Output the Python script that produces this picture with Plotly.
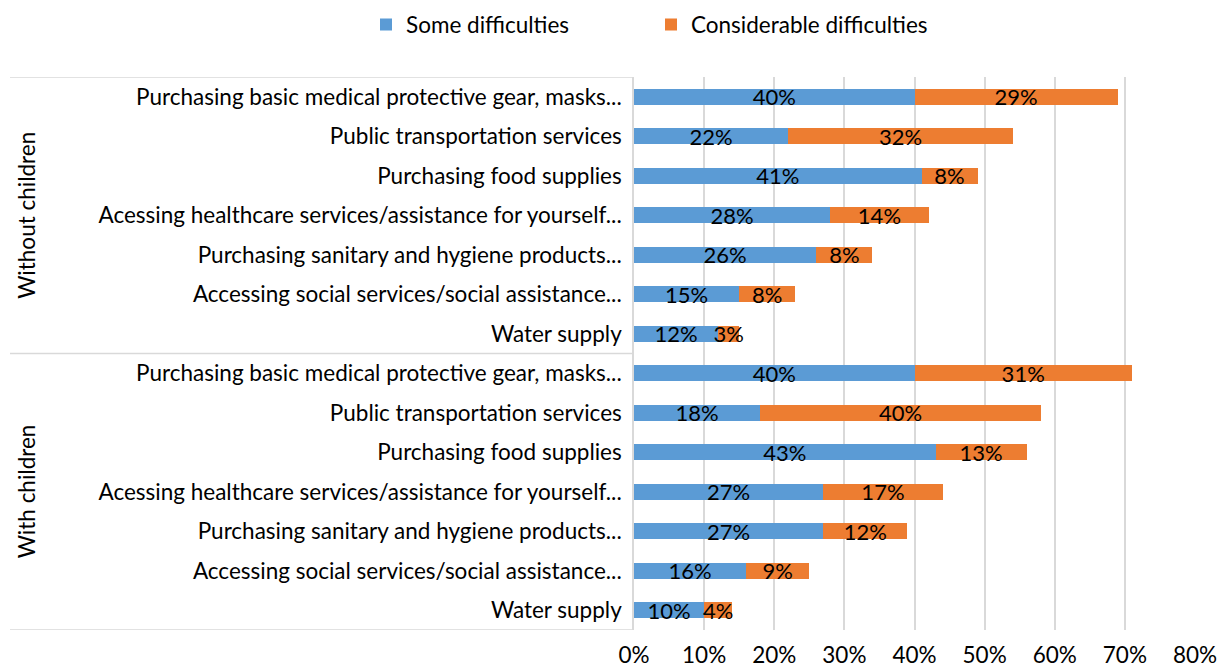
import plotly.graph_objects as go

# Survey categories (top to bottom within each group)
categories = [
    "Purchasing basic medical protective gear, masks...",
    "Public transportation services",
    "Purchasing food supplies",
    "Acessing healthcare services/assistance for yourself...",
    "Purchasing sanitary and hygiene products...",
    "Accessing social services/social assistance...",
    "Water supply",
]
groups = ["Without children", "With children"]

# Shares (%) by group, same order as categories
some_without = [40, 22, 41, 28, 26, 15, 12]
considerable_without = [29, 32, 8, 14, 8, 8, 3]
some_with = [40, 18, 43, 27, 27, 16, 10]
considerable_with = [31, 40, 13, 17, 12, 9, 4]

x_ticks = [0, 10, 20, 30, 40, 50, 60, 70, 80]

BLUE = "#5b9bd5"
ORANGE = "#ed7d31"
GRID = "#d9d9d9"
FONT = "Lato"
FS = 22.5

labels = categories + categories
positions = list(range(len(labels)))
some = [v / 100 for v in some_without + some_with]
considerable = [v / 100 for v in considerable_without + considerable_with]

fig = go.Figure()
for name, vals, color, leg in [
    ("Some difficulties", some, BLUE, "legend"),
    ("Considerable difficulties", considerable, ORANGE, "legend2"),
]:
    fig.add_trace(go.Bar(
        name=name,
        legend=leg,
        showlegend=True,
        y=positions,
        x=vals,
        orientation="h",
        marker=dict(color=color, line=dict(width=0)),
        width=0.4,
        text=[f"{round(v * 100)}%" for v in vals],
        textposition="inside",
        insidetextanchor="middle",
        textangle=0,
        textfont=dict(family=FONT, size=22, color="black"),
        constraintext="none",
        cliponaxis=False,
    ))

legend_style = dict(
    orientation="h",
    xref="container",
    xanchor="left",
    yref="container",
    y=0.995,
    yanchor="top",
    font=dict(family=FONT, size=FS, color="black"),
)

n = len(categories)
fig.update_layout(
    barmode="stack",
    showlegend=True,
    width=1221,
    height=670,
    margin=dict(l=634, r=26, t=77, b=40, autoexpand=False),
    paper_bgcolor="white",
    plot_bgcolor="white",
    font=dict(family=FONT, size=FS, color="black"),
    uniformtext=dict(mode=False),
    legend=dict(x=366 / 1221, **legend_style),
    legend2=dict(x=651 / 1221, **legend_style),
    xaxis=dict(
        range=[0, 0.8],
        tickvals=[t / 100 for t in x_ticks],
        ticktext=[f"{t}%" for t in x_ticks],
        showgrid=True,
        gridcolor=GRID,
        gridwidth=1.5,
        zeroline=False,
        showline=False,
        ticks="",
        automargin=False,
        ticklabelstandoff=9,
        tickfont=dict(family=FONT, size=FS, color="black"),
    ),
    yaxis=dict(
        range=[len(labels) - 0.5, -0.5],
        tickvals=positions,
        ticktext=labels,
        showgrid=False,
        zeroline=False,
        showline=True,
        linecolor=GRID,
        linewidth=1.5,
        ticks="",
        automargin=False,
        ticklabelstandoff=6,
        tickfont=dict(family=FONT, size=FS, color="black"),
    ),
)

# Group separators on the category side
left = -(634 - 10) / (1221 - 634 - 26)
for yv in [-0.5, n - 0.5, 2 * n - 0.5]:
    fig.add_shape(
        type="line", xref="paper", yref="y",
        x0=left, x1=0, y0=yv, y1=yv,
        line=dict(color=GRID, width=1.5),
        layer="below",
    )

# Group labels, rotated
for i, g in enumerate(groups):
    fig.add_annotation(
        text=g, xref="paper", yref="y",
        x=left + 0.002, xanchor="left",
        y=i * n + (n - 1) / 2, yanchor="middle",
        textangle=-90, showarrow=False,
        font=dict(family=FONT, size=FS, color="black"),
    )

fig.write_html("out.html")
